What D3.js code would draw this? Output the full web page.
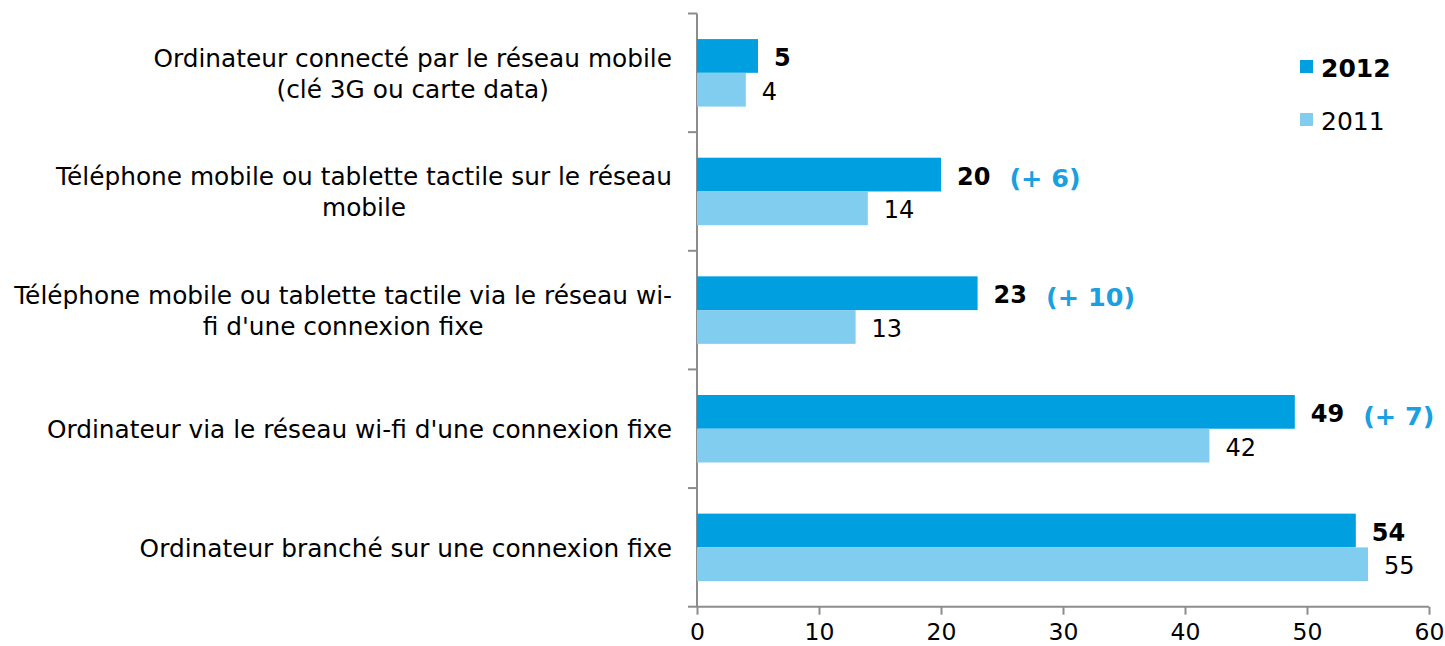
<!DOCTYPE html>
<html lang="fr">
<head>
  <meta charset="UTF-8" />
  <title>Connexion internet 2011-2012</title>
  <style>
    body { margin: 0; background: #fff; }
    svg { display: block; font-family: "DejaVu Sans", Verdana, sans-serif; }
  </style>
</head>
<body>
  <svg width="1445" height="646"></svg>
  <script src="https://d3js.org/d3.v7.min.js"></script>
  <script>
    // categories, top to bottom (lines split as in the original)
    const categories = [
      ['Ordinateur connecté par le réseau mobile', '(clé 3G ou carte data)'],
      ['Téléphone mobile ou tablette tactile sur le réseau', 'mobile'],
      ['Téléphone mobile ou tablette tactile via le réseau wi-', "fi d'une connexion fixe"],
      ["Ordinateur via le réseau wi-fi d'une connexion fixe"],
      ['Ordinateur branché sur une connexion fixe']
    ];
    const values2012 = [5, 20, 23, 49, 54];
    const values2011 = [4, 14, 13, 42, 55];
    const diffs = ['', '(+ 6)', '(+ 10)', '(+ 7)', ''];
    const xTicks = [0, 10, 20, 30, 40, 50, 60];
    const seriesNames = ['2012', '2011'];

    const c2012 = '#009fe0';
    const c2011 = '#80cdef';

    const svg = d3.select('svg');
    const plotLeft = 697, plotRight = 1429, plotTop = 13.5, plotBottom = 606.7;

    const x = d3.scaleLinear().domain([0, 60]).range([plotLeft, plotRight]);
    const y = d3.scaleBand().domain(d3.range(categories.length)).range([plotTop, plotBottom]);
    const barH = 33.75;
    const inner = (y.bandwidth() - 2 * barH) / 2;

    // x axis
    const xAxis = svg.append('g')
      .attr('transform', `translate(0,${plotBottom})`)
      .call(d3.axisBottom(x).tickValues(xTicks).tickSize(8).tickPadding(9));
    xAxis.select('.domain').attr('stroke', '#8c8c8c').attr('stroke-width', 2)
      .attr('d', `M${plotLeft},0H${plotRight}`);
    xAxis.selectAll('.tick line').attr('stroke', '#8c8c8c').attr('stroke-width', 2);
    xAxis.selectAll('.tick text').attr('fill', '#000').style('font-size', '23.5px')
      .style('font-family', '"DejaVu Sans", Verdana, sans-serif');

    // y axis line with category boundary ticks
    const yg = svg.append('g');
    yg.append('line').attr('x1', plotLeft).attr('x2', plotLeft).attr('y1', plotTop).attr('y2', plotBottom)
      .attr('stroke', '#8c8c8c').attr('stroke-width', 2);
    yg.selectAll('.bt').data(d3.range(categories.length + 1)).enter().append('line')
      .attr('x1', plotLeft - 9).attr('x2', plotLeft)
      .attr('y1', i => plotTop + i * y.step()).attr('y2', i => plotTop + i * y.step())
      .attr('stroke', '#8c8c8c').attr('stroke-width', 2);

    // bars
    svg.selectAll('.b12').data(values2012).enter().append('rect')
      .attr('x', plotLeft).attr('y', (d, i) => y(i) + inner)
      .attr('width', d => x(d) - plotLeft).attr('height', barH).attr('fill', c2012);
    svg.selectAll('.b11').data(values2011).enter().append('rect')
      .attr('x', plotLeft).attr('y', (d, i) => y(i) + inner + barH)
      .attr('width', d => x(d) - plotLeft).attr('height', barH).attr('fill', c2011);

    // value labels
    const lab12 = svg.selectAll('.l12').data(values2012).enter().append('text')
      .attr('x', d => x(d) + 16).attr('y', (d, i) => y(i) + inner + barH / 2)
      .attr('dy', '0.42em').style('font-size', '24px').style('font-weight', 'bold')
      .text(d => d);
    svg.selectAll('.l11').data(values2011).enter().append('text')
      .attr('x', d => x(d) + 16).attr('y', (d, i) => y(i) + inner + barH * 1.5)
      .attr('dy', '0.42em').style('font-size', '24px')
      .text(d => d);

    // differences
    lab12.each(function (d, i) {
      if (!diffs[i]) return;
      const end = +this.getAttribute('x') + this.getComputedTextLength();
      svg.append('text')
        .attr('x', end + 19).attr('y', y(i) + inner + barH / 2).attr('dy', '0.5em')
        .style('font-size', '25.5px').style('font-weight', 'bold').attr('fill', '#1a9fe0')
        .text(diffs[i]);
    });

    // category labels: block right-aligned, lines centred within it
    const lineH = 31;
    categories.forEach((lines, i) => {
      const cy = y(i) + y.bandwidth() / 2;
      const t = svg.append('text').style('font-size', '24.8px').attr('text-anchor', 'middle');
      const spans = lines.map((l, k) => t.append('tspan').text(l)
        .attr('y', cy + (k - (lines.length - 1) / 2) * lineH).attr('dy', '0.38em'));
      const w = d3.max(spans, s => s.node().getComputedTextLength());
      spans.forEach(s => s.attr('x', 672 - w / 2));
    });

    // legend
    const lg = svg.append('g');
    seriesNames.forEach((n, i) => {
      const ly = 67 + i * 53;
      lg.append('rect').attr('x', 1300).attr('y', ly - 7).attr('width', 13).attr('height', 13)
        .attr('fill', i === 0 ? c2012 : c2011);
      lg.append('text').attr('x', 1321).attr('y', ly).attr('dy', '0.38em')
        .style('font-size', '25px').style('font-weight', i === 0 ? 'bold' : 'normal').text(n);
    });
  </script>
</body>
</html>
